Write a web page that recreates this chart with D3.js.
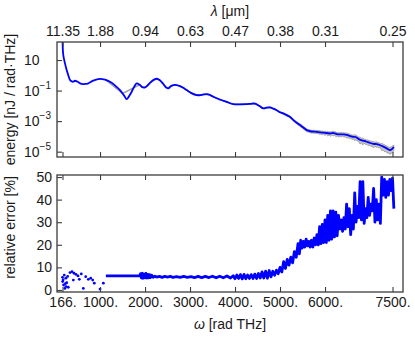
<!DOCTYPE html>
<html>
<head>
<meta charset="utf-8">
<script src="https://cdn.jsdelivr.net/npm/d3@7"></script>
<style>
  body { margin: 0; background: #fff; }
  text { font-family: 'Liberation Sans', Arial, sans-serif; fill: #1a1a1a; }
</style>
</head>
<body>
<div id="chart"></div>
<script>
const width = 415
const height = 342

// tick values and labels
const omegaTicks = [166, 1000, 2000, 3000, 4000, 5000, 6000, 7500]
const omegaLabels = ['166.', '1000.', '2000.', '3000.', '4000.', '5000.', '6000.', '7500.']
const lambdaLabels = ['11.35', '1.88', '0.94', '0.63', '0.47', '0.38', '0.31', '0.25']
const energyTicks = [10, 1e-1, 1e-3, 1e-5]
const energyExponents = ['', '\u22121', '\u22123', '\u22125']
const errorTicks = [0, 10, 20, 30, 40, 50]

// spectrum (rad THz, nJ / rad THz)
const energyOmega = [166, 184, 220, 259, 300, 333, 370, 407, 444, 500, 593, 660, 740, 850, 1000, 1110, 1222, 1330,
  1444, 1540, 1593, 1640, 1704, 1760, 1815, 1880, 1940, 2000, 2060, 2111, 2200, 2273, 2340, 2407, 2470, 2518,
  2570, 2629, 2700, 2778, 2850, 2926, 3030, 3148, 3260, 3370, 3440, 3518, 3660, 3815, 3963, 4100, 4259, 4350,
  4444, 4540, 4629, 4700, 4778, 4850, 4926, 5000, 5070, 5148, 5220, 5296, 5370, 5444, 5520, 5593, 5700, 5815,
  5960, 6111, 6200, 6260, 6407, 6500, 6600, 6680, 6778, 6870, 6950, 7074, 7150, 7200, 7296, 7380, 7444, 7490, 7530]
const energyValue = [200, 21, 6.3, 2.2, 0.9, 0.49, 0.40, 0.38, 0.44, 0.38, 0.27, 0.27, 0.30, 0.45, 0.59, 0.52, 0.38, 0.22,
  0.107, 0.045, 0.0275, 0.04, 0.083, 0.18, 0.295, 0.24, 0.166, 0.162, 0.224, 0.32, 0.52, 0.59, 0.45, 0.27, 0.158, 0.138,
  0.19, 0.23, 0.23, 0.195, 0.151, 0.107, 0.068, 0.050, 0.052, 0.059, 0.052, 0.039, 0.026, 0.018, 0.0129, 0.0126, 0.0129, 0.0135,
  0.0141, 0.010, 0.0068, 0.0076, 0.0079, 0.0066, 0.0052, 0.0038, 0.0032, 0.00245, 0.0019, 0.00117, 0.00079, 0.00055, 0.00038, 0.000257, 0.000209, 0.0002,
  0.000174, 0.000155, 0.000166, 0.000138, 0.000135, 0.00012, 0.000095, 0.000091, 0.00006, 0.00005, 0.000042, 0.000032, 0.0000316, 0.0000282, 0.0000215, 0.0000158, 0.0000126, 0.0000151, 0.0000195]

// relative error, scattered low-frequency part
const dotOmega = [166, 170, 190, 220, 205, 240, 260, 295, 333, 378, 422, 467, 511, 540, 584, 629, 682, 740, 793, 838, 873, 1000, 1074, 407, 244, 180, 230, 280]
const dotError = [5.6, 3.7, 2.2, 0.7, 6.6, 5.2, 3.2, 1.2, 7.7, 8.1, 7.4, 6.9, 6.2, 4.7, 7.1, 0.7, 5.9, 4.7, 5.2, 4.4, 3.0, 0.4, 3.0, 4.4, 1.5, 4.5, 2.8, 6.0]

// relative error, continuous part
const lineOmega = [1130, 1500, 1880, 1900, 1920, 1940, 1960, 1980, 2000, 2020, 2040, 2060, 2080, 2100, 2120, 2150, 2180, 2220,
  2260, 2320, 2380, 2440, 2500, 2560, 2620, 2700, 2780, 2860, 2940, 3020, 3100, 3180, 3260, 3340, 3420, 3500, 3580, 3660, 3740, 3820, 3900, 3960,
  4000, 4040, 4080, 4120, 4160, 4200, 4240, 4280, 4320, 4360, 4400, 4440, 4480, 4520, 4560, 4600, 4640, 4680, 4720, 4760, 4800, 4840, 4880, 4920, 4960,
  5000, 5040, 5080, 5120, 5160, 5200, 5240, 5280, 5320, 5360, 5400, 5430, 5460, 5490, 5520, 5550, 5580, 5610, 5640, 5670, 5700, 5730, 5760, 5790,
  5820, 5850, 5880, 5910, 5940, 5970, 6000, 6030, 6060, 6090, 6120, 6150, 6180, 6210, 6240, 6270, 6300, 6330, 6360, 6390, 6420, 6450, 6480, 6510,
  6540, 6570, 6600, 6630, 6660, 6690, 6720, 6750, 6780, 6810, 6840, 6870, 6900, 6930, 6960, 6990, 7020, 7050, 7080, 7110, 7140, 7170, 7200, 7230,
  7260, 7290, 7320, 7350, 7380, 7410, 7440, 7470, 7500, 7530]
const lineError = [6.2, 6.2, 6.2, 7.2, 5.3, 7.4, 5.2, 7.0, 5.4, 7.3, 5.3, 6.9, 5.4, 6.8, 5.5, 6.5, 5.6, 6.1,
  5.7, 6.0, 5.6, 6.0, 5.7, 6.0, 5.6, 5.9, 5.6, 6.0, 5.6, 5.9, 5.5, 6.0, 5.5, 6.0, 5.5, 6.1, 5.4, 6.1, 5.4, 6.2, 5.3, 6.3,
  5.0, 6.6, 5.1, 6.8, 4.9, 6.9, 5.0, 6.6, 5.1, 6.8, 5.1, 7.0, 5.1, 7.3, 5.3, 8.0, 5.3, 8.3, 5.2, 8.6, 5.8, 8.3, 6.5, 8.8, 7.2,
  10.0, 8.0, 12.5, 9.5, 13.5, 11.0, 14.5, 12.0, 17.0, 14.5, 20.5, 16.0, 22.0, 18.5, 21.5, 19.0, 22.5, 19.5, 21.5, 19.0, 22.0, 19.0, 23.0, 20.0,
  24.5, 20.0, 28.0, 20.5, 29.0, 21.0, 31.0, 21.0, 33.0, 22.0, 35.0, 22.5, 35.0, 23.5, 34.5, 24.0, 33.0, 27.0, 31.0, 26.0, 32.0, 27.0, 38.0, 28.0,
  36.0, 24.5, 33.0, 27.0, 43.0, 30.0, 37.0, 32.0, 48.0, 31.0, 48.0, 29.5, 36.0, 32.0, 41.0, 33.0, 38.0, 35.0, 45.0, 30.0, 40.0, 31.0, 38.0, 29.5,
  50.0, 42.0, 49.0, 41.0, 48.0, 42.0, 49.0, 44.0, 49.5, 36.0]

const fontSize = 14

const svg = d3.select('#chart')
  .append('svg')
  .attr('width', width)
  .attr('height', height)

const pTop = { x0: 57, x1: 403, y0: 42, y1: 157 }
const pBot = { x0: 57, x1: 403, y0: 175, y1: 292 }

const x = d3.scaleLinear().domain([44, 7733]).range([pTop.x0, pTop.x1])
const yE = d3.scaleLog().domain([Math.pow(10, -5.35), Math.pow(10, 2.18)]).range([pTop.y1, pTop.y0])
const yR = d3.scaleLinear().domain([-0.9, 50.9]).range([pBot.y1, pBot.y0])

const defs = svg.append('defs')
defs.append('clipPath').attr('id', 'clipTop')
  .append('rect').attr('x', pTop.x0).attr('y', pTop.y0).attr('width', pTop.x1 - pTop.x0).attr('height', pTop.y1 - pTop.y0)
defs.append('clipPath').attr('id', 'clipBot')
  .append('rect').attr('x', pBot.x0).attr('y', pBot.y0).attr('width', pBot.x1 - pBot.x0).attr('height', pBot.y1 - pBot.y0)

const energy = energyOmega.map((w, i) => ({ w, e: energyValue[i] }))
const errLine = lineOmega.map((w, i) => ({ w, r: lineError[i] }))
const errDots = dotOmega.map((w, i) => ({ w, r: dotError[i] }))

// energy at a given omega, interpolated in log space
function energyAt (w) {
  const i = Math.min(Math.max(d3.bisector(d => d.w).left(energy, w), 1), energy.length - 1)
  const a = energy[i - 1], b = energy[i]
  const t = (w - a.w) / (b.w - a.w)
  return Math.pow(10, Math.log10(a.e) + t * (Math.log10(b.e) - Math.log10(a.e)))
}

const band = errLine.map(d => {
  const e = energyAt(d.w)
  return { w: d.w, hi: e * (1 + d.r / 100), lo: e * (1 - d.r / 100) }
})

const gTop = svg.append('g').attr('clip-path', 'url(#clipTop)')

gTop.append('path')
  .datum(band)
  .attr('fill', '#c4c4c4')
  .attr('stroke', '#8c8c8c')
  .attr('stroke-width', 0.7)
  .attr('d', d3.area().x(d => x(d.w)).y0(d => yE(d.lo)).y1(d => yE(d.hi)))

gTop.append('path')
  .datum(energy)
  .attr('fill', 'none')
  .attr('stroke', '#0000ff')
  .attr('stroke-width', 1.8)
  .attr('d', d3.line().x(d => x(d.w)).y(d => yE(d.e)).curve(d3.curveCatmullRom))

const gBot = svg.append('g').attr('clip-path', 'url(#clipBot)')

gBot.selectAll('circle.dot')
  .data(errDots)
  .enter()
  .append('circle')
  .attr('class', 'dot')
  .attr('cx', d => x(d.w))
  .attr('cy', d => yR(d.r))
  .attr('r', 1.4)
  .attr('fill', '#0000ff')

gBot.append('path')
  .datum(errLine)
  .attr('fill', 'none')
  .attr('stroke', '#0000ff')
  .attr('stroke-width', 2.8)
  .attr('stroke-linejoin', 'round')
  .attr('d', d3.line().x(d => x(d.w)).y(d => yR(d.r)))

// frames
const frameColor = '#3c3c3c'
;[pTop, pBot].forEach(p => {
  svg.append('rect')
    .attr('x', p.x0).attr('y', p.y0)
    .attr('width', p.x1 - p.x0).attr('height', p.y1 - p.y0)
    .attr('fill', 'none')
    .attr('stroke', frameColor)
    .attr('stroke-width', 1.3)
})

function styleAxis (g) {
  g.select('.domain').remove()
  g.selectAll('line').attr('stroke', frameColor).attr('stroke-width', 1.1)
  g.selectAll('text').attr('font-size', fontSize).attr('fill', '#1a1a1a')
    .style('font-family', "'Liberation Sans', Arial, sans-serif")
}

// top panel axes
svg.append('g')
  .attr('transform', `translate(0,${pTop.y0})`)
  .call(d3.axisTop(x).tickValues(omegaTicks).tickSize(-5).tickPadding(6)
    .tickFormat((d, i) => lambdaLabels[i]))
  .call(styleAxis)

svg.append('g')
  .attr('transform', `translate(0,${pTop.y1})`)
  .call(d3.axisBottom(x).tickValues(omegaTicks).tickSize(-5).tickFormat(''))
  .call(styleAxis)

const leftE = svg.append('g')
  .attr('transform', `translate(${pTop.x0},0)`)
  .call(d3.axisLeft(yE).tickValues(energyTicks).tickSize(-5).tickFormat(''))
  .call(styleAxis)

leftE.selectAll('.tick').each(function (d, i) {
  const t = d3.select(this).append('text')
    .attr('x', -33)
    .attr('dy', '0.34em')
    .attr('text-anchor', 'start')
    .attr('font-size', fontSize)
    .attr('fill', '#1a1a1a')
  t.append('tspan').text('10')
  if (energyExponents[i]) {
    t.append('tspan').attr('font-size', 10).attr('dy', '-0.7em').text(energyExponents[i])
  }
})

// bottom panel axes
svg.append('g')
  .attr('transform', `translate(0,${pBot.y0})`)
  .call(d3.axisTop(x).tickValues(omegaTicks).tickSize(-5).tickFormat(''))
  .call(styleAxis)

svg.append('g')
  .attr('transform', `translate(0,${pBot.y1})`)
  .call(d3.axisBottom(x).tickValues(omegaTicks).tickSize(-5).tickPadding(5)
    .tickFormat((d, i) => omegaLabels[i]))
  .call(styleAxis)

svg.append('g')
  .attr('transform', `translate(${pBot.x0},0)`)
  .call(d3.axisLeft(yR).tickValues(errorTicks).tickSize(-5).tickPadding(5).tickFormat(d3.format('d')))
  .call(styleAxis)

// axis titles
const lam = svg.append('text')
  .attr('x', (pTop.x0 + pTop.x1) / 2)
  .attr('y', 16)
  .attr('text-anchor', 'middle')
  .attr('font-size', fontSize)
lam.append('tspan').attr('font-style', 'italic').text('\u03bb')
lam.append('tspan').text(' [\u03bcm]')

const om = svg.append('text')
  .attr('x', (pBot.x0 + pBot.x1) / 2)
  .attr('y', 329)
  .attr('text-anchor', 'middle')
  .attr('font-size', fontSize)
om.append('tspan').attr('font-style', 'italic').text('\u03c9')
om.append('tspan').text(' [rad THz]')

svg.append('text')
  .attr('transform', `translate(15,${(pTop.y0 + pTop.y1) / 2}) rotate(-90)`)
  .attr('text-anchor', 'middle')
  .attr('font-size', fontSize)
  .text('energy [nJ / rad\u00b7THz]')

svg.append('text')
  .attr('transform', `translate(15,${(pBot.y0 + pBot.y1) / 2 - 6}) rotate(-90)`)
  .attr('text-anchor', 'middle')
  .attr('font-size', fontSize)
  .text('relative error [%]')
</script>
</body>
</html>
